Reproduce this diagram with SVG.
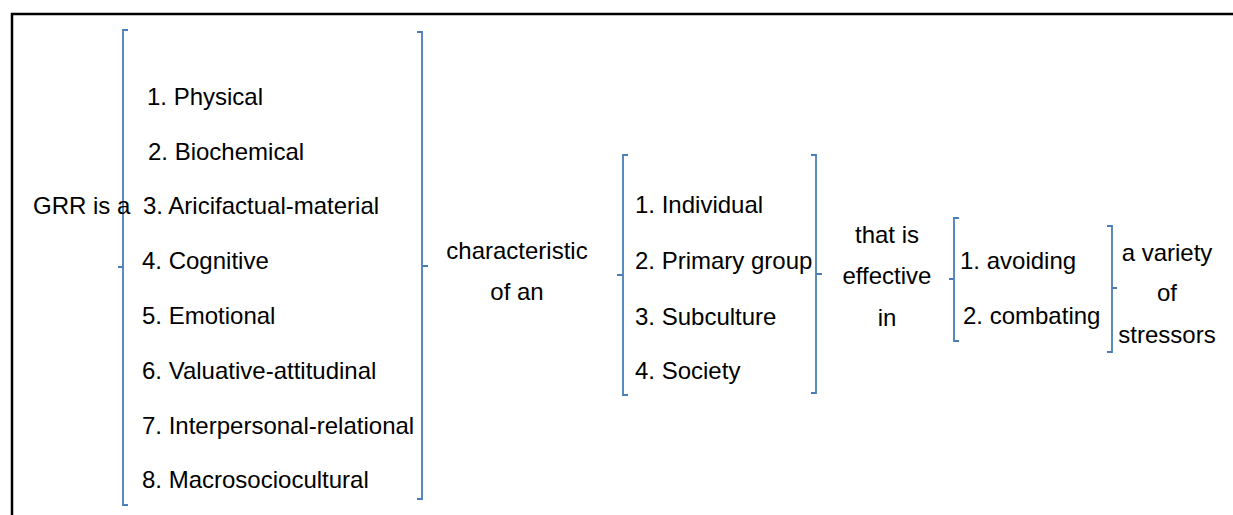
<svg xmlns="http://www.w3.org/2000/svg" width="1233" height="515" viewBox="0 0 1233 515">
<style>
text{font-family:"Liberation Sans",Arial,sans-serif;font-size:24px;fill:#000}
.c{text-anchor:middle}
.br{fill:none;stroke:#4a7ebb;stroke-width:1.8}
.frame{fill:none;stroke:#000;stroke-width:2.5}
</style>
<rect width="1233" height="515" fill="#fff"/>
<path class="frame" d="M12,515 V14 H1233"/>
<g id="connectors">
<path class="br" d="M128,30 H123 V505 H128 M123,267 H118"/>
<path class="br" d="M417,32 H422 V499 H417 M422,266 H428"/>
<path class="br" d="M628,155 H623 V395 H628 M623,275 H617"/>
<path class="br" d="M811,155 H816 V393 H811 M816,274 H822"/>
<path class="br" d="M959,218 H954 V341 H959 M954,279 H949"/>
<path class="br" d="M1107,226 H1112 V352 H1107 M1112,288 H1117"/>
</g>
<g id="n-grr"><text x="33" y="214">GRR is a</text></g>
<g id="n-resources">
<text x="147" y="105">1. Physical</text>
<text x="148" y="160">2. Biochemical</text>
<text x="143" y="214">3. Aricifactual-material</text>
<text x="142" y="269">4. Cognitive</text>
<text x="142" y="324">5. Emotional</text>
<text x="142" y="379">6. Valuative-attitudinal</text>
<text x="142" y="434">7. Interpersonal-relational</text>
<text x="142" y="488">8. Macrosociocultural</text>
</g>
<g id="n-char"><text class="c" x="517" y="259">characteristic</text><text class="c" x="517" y="300">of an</text></g>
<g id="n-levels">
<text x="635" y="213">1. Individual</text>
<text x="635" y="269">2. Primary group</text>
<text x="635" y="325">3. Subculture</text>
<text x="635" y="379">4. Society</text>
</g>
<g id="n-effective"><text class="c" x="887" y="243">that is</text><text class="c" x="887" y="284">effective</text><text class="c" x="887" y="326">in</text></g>
<g id="n-actions">
<text x="960" y="269">1. avoiding</text>
<text x="963" y="324">2. combating</text>
</g>
<g id="n-stressors"><text class="c" x="1167" y="261">a variety</text><text class="c" x="1167" y="301">of</text><text class="c" x="1167" y="343">stressors</text></g>
</svg>
